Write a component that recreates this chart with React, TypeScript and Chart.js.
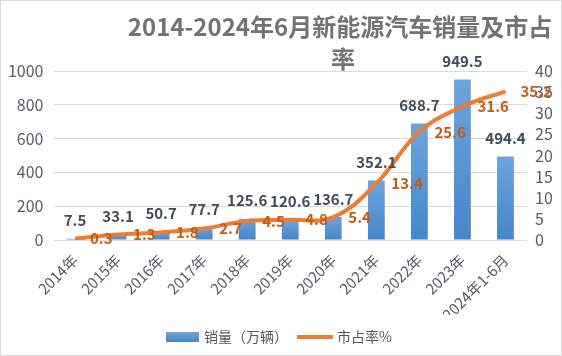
import React, { useEffect, useRef } from 'react';
import { Chart, registerables } from 'chart.js';

Chart.register(...registerables);

const categories = ['2014年', '2015年', '2016年', '2017年', '2018年', '2019年', '2020年', '2021年', '2022年', '2023年', '2024年1-6月'];
const salesValues = [7.5, 33.1, 50.7, 77.7, 125.6, 120.6, 136.7, 352.1, 688.7, 949.5, 494.4];
const shareValues = [0.3, 1.3, 1.8, 2.7, 4.5, 4.8, 5.4, 13.4, 25.6, 31.6, 35.2];
const titleLines = ['2014-2024年6月新能源汽车销量及市占', '率'];
const salesName = '销量（万辆）';
const shareName = '市占率%';
const leftMax = 1000;
const leftStep = 200;
const rightMax = 40;
const rightStep = 5;

const FONT = '"Noto Sans CJK SC", "Noto Sans", sans-serif';
const TICK_COLOR = '#555d68';

const drawPlugin = {
  id: 'customDraw',
  afterDatasetsDraw(chart: any) {
    const ctx = chart.ctx;
    const barMeta = chart.getDatasetMeta(0);
    const lineMeta = chart.getDatasetMeta(1);
    ctx.save();
    ctx.font = 'bold 15px ' + FONT;
    ctx.textBaseline = 'middle';
    ctx.textAlign = 'center';
    ctx.fillStyle = '#414b5a';
    barMeta.data.forEach((el: any, i: number) => {
      ctx.fillText(salesValues[i].toFixed(1), el.x, el.y - 18);
    });
    ctx.fillStyle = '#c55a11';
    ctx.textAlign = 'left';
    lineMeta.data.forEach((el: any, i: number) => {
      ctx.fillText(shareValues[i].toFixed(1), el.x + 15, el.y);
    });
    ctx.restore();
  },
  afterDraw(chart: any) {
    const ctx = chart.ctx;
    ctx.save();
    // title
    ctx.font = 'bold 24px ' + FONT;
    ctx.fillStyle = '#737373';
    ctx.textAlign = 'center';
    ctx.textBaseline = 'middle';
    ctx.fillText(titleLines[0], 339, 26);
    ctx.fillText(titleLines[1], 342, 58);
    // legend
    const ly = 336;
    const g = ctx.createLinearGradient(0, ly - 5, 0, ly + 5);
    g.addColorStop(0, '#6da4dc');
    g.addColorStop(1, '#4686ca');
    ctx.fillStyle = g;
    ctx.fillRect(165, ly - 5, 33, 10);
    ctx.font = '14px ' + FONT;
    ctx.fillStyle = '#595959';
    ctx.textAlign = 'left';
    ctx.fillText(salesName, 203, ly);
    ctx.strokeStyle = '#ed7d31';
    ctx.lineWidth = 4;
    ctx.lineCap = 'butt';
    ctx.beginPath();
    ctx.moveTo(296, ly);
    ctx.lineTo(332, ly);
    ctx.stroke();
    ctx.fillText(shareName, 336, ly);
    ctx.restore();
  },
};

export default function App() {
  const ref = useRef<HTMLCanvasElement | null>(null);

  useEffect(() => {
    if (!ref.current) return;
    const chart = new Chart(ref.current, {
      type: 'bar',
      data: {
        labels: categories,
        datasets: [
          {
            type: 'bar',
            label: salesName,
            data: salesValues,
            yAxisID: 'y',
            order: 1,
            barPercentage: 0.39,
            categoryPercentage: 1,
            backgroundColor: (c: any) => {
              const chart = c.chart;
              const ys = chart.scales && chart.scales.y;
              if (!ys || c.parsed == null || c.parsed.y == null) return '#5b9bd5';
              const top = ys.getPixelForValue(c.parsed.y);
              const bottom = ys.getPixelForValue(0);
              if (!isFinite(top) || !isFinite(bottom) || top === bottom) return '#5b9bd5';
              const g = chart.ctx.createLinearGradient(0, top, 0, bottom);
              g.addColorStop(0, '#6da4dc');
              g.addColorStop(1, '#4686ca');
              return g;
            },
          } as any,
          {
            type: 'line',
            label: shareName,
            data: shareValues,
            yAxisID: 'y1',
            order: 0,
            borderColor: '#ed7d31',
            borderWidth: 4,
            pointRadius: 0,
            tension: 0.4,
            cubicInterpolationMode: 'default',
            fill: false,
          } as any,
        ],
      },
      options: {
        responsive: false,
        animation: false,
        layout: { padding: { top: 70, bottom: 40, left: 0, right: 0 } },
        plugins: {
          legend: { display: false },
          title: { display: false },
          tooltip: { enabled: false },
        },
        scales: {
          x: {
            grid: { display: false, drawTicks: false },
            border: { display: false },
            ticks: {
              font: { family: FONT, size: 15 },
              color: TICK_COLOR,
              minRotation: 45,
              maxRotation: 45,
              padding: 11,
              autoSkip: false,
            },
            afterFit: (s: any) => { s.height = 75; },
          },
          y: {
            position: 'left',
            min: 0,
            max: leftMax,
            grid: { color: '#d9d9d9', lineWidth: 1, drawTicks: false },
            border: { display: false },
            ticks: {
              stepSize: leftStep,
              font: { family: FONT, size: 16 },
              color: TICK_COLOR,
              padding: 10,
              callback: (v: any) => String(v),
            },
            afterFit: (s: any) => { s.width = 52.5; },
          },
          y1: {
            position: 'right',
            min: 0,
            max: rightMax,
            grid: { drawOnChartArea: false, drawTicks: false },
            border: { display: false },
            ticks: {
              stepSize: rightStep,
              autoSkip: false,
              font: { family: FONT, size: 16 },
              color: TICK_COLOR,
              padding: 8,
              callback: (v: any) => String(v),
            },
            afterFit: (s: any) => { s.width = 34; },
          },
        },
      } as any,
      plugins: [drawPlugin],
    });
    return () => chart.destroy();
  }, []);

  return (
    <div
      style={{
        position: 'fixed',
        left: 0,
        top: 0,
        width: 562,
        height: 356,
        boxSizing: 'border-box',
        border: '1px solid #d9d9d9',
        background: '#ffffff',
      }}
    >
      <canvas ref={ref} width={560} height={354} style={{ display: 'block' }} />
    </div>
  );
}
